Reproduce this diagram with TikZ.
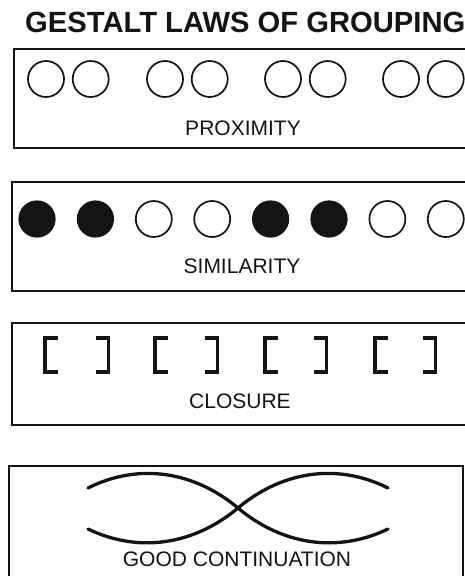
\documentclass[tikz,border=0pt]{standalone}
\usepackage{fontspec}
\setmainfont{Liberation Sans}
\usepackage{tikz}
\usetikzlibrary{positioning,calc}
\definecolor{ink}{HTML}{141414}
\tikzset{
  lawbox/.style={draw=ink, line width=1.6pt},
  ring/.style={circle, draw=ink, line width=1.7pt, minimum size=36pt, inner sep=0pt},
  disc/.style={circle, draw=ink, fill=ink, line width=1.2pt, minimum size=36pt, inner sep=0pt},
  bracketline/.style={draw=ink, line width=3.6pt, line cap=butt, line join=miter},
  wave/.style={draw=ink, line width=3.3pt, line cap=round},
  lawlabel/.style={font=\fontsize{21}{24}\selectfont, text=ink, inner sep=0pt},
}
\begin{document}
\begin{tikzpicture}[x=1pt, y=-1pt]
\useasboundingbox (0,0) rectangle (465,576);
\clip (0,0) rectangle (465,576);
\fill[white] (0,0) rectangle (465,576);

% Title
\node[font=\bfseries\fontsize{29.2}{31}\selectfont, text=ink, inner sep=0pt, anchor=base west]
  (title) at (25,32) {GESTALT LAWS OF GROUPING};

% Proximity
\draw[lawbox] (480,49) -- (14,49) -- (14,148) -- (480,148);
\foreach \p/\x in {1/46, 2/165, 3/283, 4/401}{
  \node[ring] (prox\p a) at (\x,79) {};
  \node[ring, right=7pt of prox\p a] (prox\p b) {};
}
\node[lawlabel] (proxlabel) at (243,128) {PROXIMITY};

% Similarity
\draw[lawbox] (480,182) -- (12,182) -- (12,291) -- (480,291);
\foreach \i/\f in {1/disc, 2/disc, 3/ring, 4/ring, 5/disc, 6/disc, 7/ring, 8/ring}{
  \node[\f] (sim\i) at ({37+58.4*(\i-1)},219) {};
}
\node[lawlabel] (simlabel) at (242,266) {SIMILARITY};

% Closure
\draw[lawbox] (480,323) -- (12,323) -- (12,425) -- (480,425);
\foreach \k in {0,...,3}{
  \coordinate (open\k) at ({45+110*\k},355);
  \coordinate (shut\k) at ({108.5+109*\k},355);
  \draw[bracketline] ($(open\k)+(13,-17)$) -- ($(open\k)+(0,-17)$)
    -- ($(open\k)+(0,17)$) -- ($(open\k)+(13,17)$);
  \draw[bracketline] ($(shut\k)+(-13,-17)$) -- ($(shut\k)+(0,-17)$)
    -- ($(shut\k)+(0,17)$) -- ($(shut\k)+(-13,17)$);
}
\node[lawlabel] (closlabel) at (240,401) {CLOSURE};

% Good continuation
\draw[lawbox] (9,590) -- (9,466) -- (463,466) -- (463,590);
\coordinate (cross) at (238,508);
\draw[wave] (88,488) .. controls (140,462) and (195,472) .. (cross)
  .. controls (281,544) and (336,554) .. (388,529);
\draw[wave] (88,529) .. controls (140,554) and (195,544) .. (cross)
  .. controls (281,472) and (336,462) .. (388,488);
\node[lawlabel] (contlabel) at (237,559) {GOOD CONTINUATION};

\end{tikzpicture}
\end{document}
